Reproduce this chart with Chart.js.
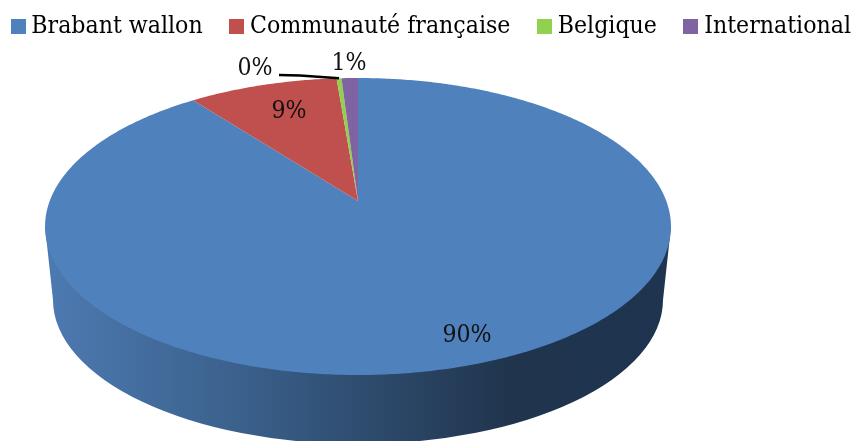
<!DOCTYPE html>
<html>
<head>
  <meta charset="utf-8">
  <title>Répartition</title>
  <script src="https://cdn.jsdelivr.net/npm/chart.js"></script>
  <style>
    body { margin: 0; background: #ffffff; }
    canvas { display: block; }
  </style>
</head>
<body>
  <canvas id="pieChart" width="856" height="441"></canvas>

  <script>
    const categories = ['Brabant wallon', 'Communauté française', 'Belgique', 'International'];
    const shares = [89.6, 9.1, 0.3, 1.0];
    const sliceColors = ['#4f81bd', '#c0504d', '#92d050', '#8064a2'];

    const FONT = '"DejaVu Serif Condensed", "DejaVu Serif", serif';
    const FONT_SIZE = 24.6;
    const TEXT_COLOR = '#111111';

    // perspective of the tilted disc, measured on the reference
    const PIE = { x: 358, y: 201, r: 308.3, lift: -109.6, tilt: 0.1717 };
    // bottom rim of the wall, and the rim extremes of the top face
    const RIM = { x: 358, y: 300, rx: 305, ry: 144 };
    const TOP_Y = 226.5, TOP_RX = 313;

    function project(angle, f) {
      const u = Math.cos(angle) * f;
      const v = -Math.sin(angle) * f;
      const w = 1 + PIE.tilt * v;
      return { x: PIE.x + PIE.r * u / w, y: (PIE.y + PIE.lift * v) / w };
    }

    class FlatArc extends Chart.ArcElement {
      static id = 'flatArc';
      draw(ctx) {
        const { startAngle, endAngle } = this.getProps(['startAngle', 'endAngle']);
        const steps = Math.max(2, Math.ceil((endAngle - startAngle) / 0.01));
        ctx.save();
        ctx.fillStyle = this.options.backgroundColor;
        ctx.beginPath();
        ctx.moveTo(PIE.x, PIE.y);
        for (let i = 0; i <= steps; i++) {
          const p = project(startAngle + (endAngle - startAngle) * i / steps, 1);
          ctx.lineTo(p.x, p.y);
        }
        ctx.closePath();
        ctx.fill();
        ctx.restore();
      }
    }

    class FlatPieController extends Chart.PieController {
      static id = 'flatPie';
      static defaults = { dataElementType: 'flatArc' };
    }

    Chart.register(FlatArc, FlatPieController);

    const wallPlugin = {
      id: 'wall',
      beforeDatasetsDraw(chart) {
        const ctx = chart.ctx;
        const grad = ctx.createLinearGradient(RIM.x - RIM.rx, 0, RIM.x + RIM.rx, 0);
        grad.addColorStop(0, '#4c79b0');
        grad.addColorStop(0.32, '#3a5f8a');
        grad.addColorStop(0.5, '#2f4d70');
        grad.addColorStop(0.75, '#20344d');
        grad.addColorStop(1, '#1e344f');
        ctx.save();
        ctx.fillStyle = grad;
        ctx.beginPath();
        ctx.moveTo(PIE.x - TOP_RX, TOP_Y);
        ctx.lineTo(PIE.x + TOP_RX, TOP_Y);
        ctx.lineTo(RIM.x + RIM.rx, RIM.y);
        ctx.ellipse(RIM.x, RIM.y, RIM.rx, RIM.ry, 0, 0, Math.PI);
        ctx.closePath();
        ctx.fill();
        ctx.restore();
      }
    };

    // legend sits tighter to the top edge than its item padding would allow
    const legendPlacePlugin = {
      id: 'legendPlace',
      afterLayout(chart) {
        chart.legend.top = -19;
        chart.legend.left = -16;
      }
    };

    const pieLabelsPlugin = {
      id: 'pieLabels',
      afterDatasetsDraw(chart) {
        const ctx = chart.ctx;
        const arcs = chart.getDatasetMeta(0).data;
        const places = [[467, 336], [289, 112], [255, 69], [349, 64]];
        ctx.save();
        // leader line of the thin slice
        const thin = arcs[2];
        const end = project((thin.startAngle + thin.endAngle) / 2, 1);
        ctx.strokeStyle = '#000000';
        ctx.lineWidth = 2.5;
        ctx.beginPath();
        ctx.moveTo(279, 75);
        ctx.lineTo(300, 75.5);
        ctx.lineTo(end.x, end.y);
        ctx.stroke();

        ctx.fillStyle = TEXT_COLOR;
        ctx.font = FONT_SIZE + 'px ' + FONT;
        ctx.textAlign = 'center';
        ctx.textBaseline = 'middle';
        shares.forEach(function (v, i) {
          ctx.fillText(Math.round(v) + '%', places[i][0], places[i][1]);
        });
        ctx.restore();
      }
    };

    function swatch(color) {
      const c = document.createElement('canvas');
      c.width = 15;
      c.height = 15;
      const g = c.getContext('2d');
      g.fillStyle = color;
      g.fillRect(0, 0, 15, 15);
      return c;
    }

    new Chart(document.getElementById('pieChart'), {
      type: 'flatPie',
      data: {
        labels: categories,
        datasets: [{
          data: shares,
          backgroundColor: sliceColors,
          borderWidth: 0
        }]
      },
      options: {
        responsive: false,
        animation: false,
        // wider than the canvas so the legend stays on one row
        layout: { padding: { left: -40, right: -40 } },
        plugins: {
          tooltip: { enabled: false },
          legend: {
            display: true,
            position: 'top',
            align: 'start',
            labels: {
              usePointStyle: true,
              pointStyleWidth: 2,
              padding: 33,
              color: TEXT_COLOR,
              font: { family: FONT, size: FONT_SIZE },
              generateLabels() {
                return categories.map(function (name, i) {
                  return { text: name, pointStyle: swatch(sliceColors[i]), fillStyle: sliceColors[i], lineWidth: 0, index: i };
                });
              }
            }
          }
        }
      },
      plugins: [wallPlugin, pieLabelsPlugin, legendPlacePlugin]
    });
  </script>
</body>
</html>
